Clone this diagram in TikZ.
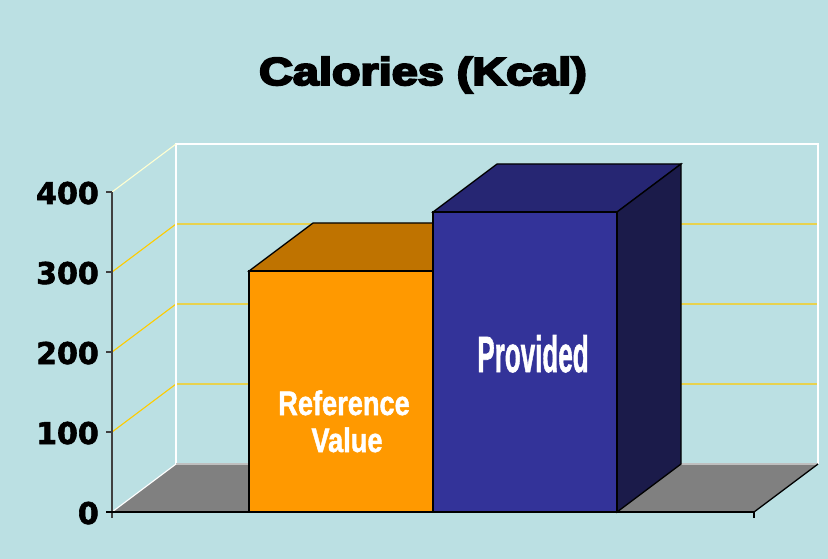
\documentclass[tikz,border=0pt]{standalone}
\usepackage{fontspec}
\setmainfont{Liberation Sans}
\newfontfamily\axfont[FakeBold=2]{DejaVu Sans Bold}
\newfontfamily\titlefont[FakeBold=5]{Liberation Sans Bold}
\newfontfamily\labfont[FakeBold=1.5]{Liberation Sans Bold}
\definecolor{bgc}{RGB}{187,224,227}
\definecolor{orfront}{RGB}{255,153,0}
\definecolor{ortop}{RGB}{191,115,0}
\definecolor{blfront}{RGB}{51,51,153}
\definecolor{bltop}{RGB}{38,38,115}
\definecolor{blside}{RGB}{27,27,74}
\definecolor{floorc}{RGB}{128,128,128}
\definecolor{gridc}{RGB}{255,204,0}
\definecolor{creamc}{RGB}{255,255,210}
\tikzset{
  gridline/.style={draw=gridc, line width=1.1pt},
  wallline/.style={draw=white, line width=1.1pt},
  barface/.style={draw=black, line width=1.3pt, line join=miter},
  axisline/.style={draw=black!75, line width=1.3pt},
  ticklab/.style={anchor=base east, inner sep=0pt, font=\axfont\fontsize{30}{30}\selectfont},
  barlab/.style={text=white, inner sep=0pt, font=\labfont\fontsize{34}{34}\selectfont}
}
\begin{document}
\begin{tikzpicture}[x=1pt,y=-1pt]
\fill[bgc] (0,0) rectangle (828,559);
\useasboundingbox (0,0) rectangle (828,559);
% floor
\fill[floorc] (112,512) -- (176,464) -- (818,464) -- (754,512) -- cycle;
% gridlines
\foreach \g in {384,304,224}{
  \draw[gridline] (112,\g+48) -- (176,\g) -- (818,\g);
}
% walls
\draw[wallline] (176,464) -- (176,144) -- (818,144) -- (818,464);
\draw[draw=creamc, line width=1.1pt] (112,192) -- (176,144);
\draw[draw=black!25!white, line width=1.1pt] (176,464) -- (818,464);
\draw[draw=white, line width=1.1pt] (112,512) -- (176,464);
\draw[draw=black, line width=1.3pt] (754,512) -- (818,464);
% orange bar
\filldraw[barface, fill=ortop] (249,271) -- (313,223) -- (497,223) -- (433,271) -- cycle;
\filldraw[barface, fill=orfront] (249,512) rectangle (433,271);
% blue bar
\filldraw[barface, fill=bltop] (433,212) -- (497,164) -- (681,164) -- (617,212) -- cycle;
\filldraw[barface, fill=blside] (617,212) -- (681,164) -- (681,464) -- (617,512) -- cycle;
\filldraw[barface, fill=blfront] (433,512) rectangle (617,212);
% axes
\draw[axisline] (112,192) -- (112,518);
\foreach \t in {192,272,352,432,512}{
  \draw[axisline] (106,\t) -- (112,\t);
}
\draw[draw=black, line width=1.3pt] (106,512) -- (754,512);
\draw[draw=black, line width=1.3pt] (754,512) -- (754,518);
% labels
\node[ticklab] (l400) at (99,204) {400};
\node[ticklab] (l300) at (99,284) {300};
\node[ticklab] (l200) at (99,364) {200};
\node[ticklab] (l100) at (99,444) {100};
\node[ticklab] (l0) at (99,524) {0};
\node[anchor=base, inner sep=0pt, font=\titlefont\fontsize{39}{39}\selectfont] (title) at (423,85) {\scalebox{1.2}[1]{Calories (Kcal)}};
\node[barlab, anchor=base] (ref) at (344,415) {\scalebox{0.8}[1]{Reference}};
\node[barlab, anchor=base] (val) at (347,452) {\scalebox{0.8}[1]{Value}};
\node[text=white, inner sep=0pt, anchor=base, font=\labfont\fontsize{51}{51}\selectfont] (prov) at (533,372) {\scalebox{0.51}[1]{Provided}};
\end{tikzpicture}
\end{document}
